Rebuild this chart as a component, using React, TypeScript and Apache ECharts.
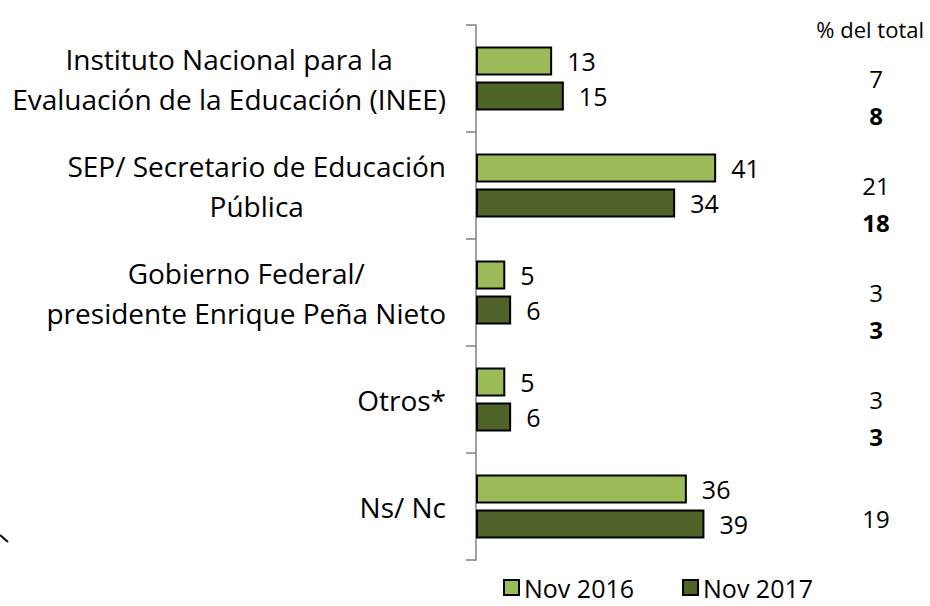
import React, { useEffect, useRef } from "react";
import * as echarts from "echarts";

const categories = [
  "Instituto Nacional para la\nEvaluación de la Educación (INEE)",
  "SEP/ Secretario de Educación\nPública",
  "Gobierno Federal/\npresidente Enrique Peña Nieto",
  "Otros*",
  "Ns/ Nc",
];
const nov2016 = [13, 41, 5, 5, 36];
const nov2017 = [15, 34, 6, 6, 39];
const pct2016: (number | null)[] = [7, 21, 3, 3, null];
const pct2017: (number | null)[] = [8, 18, 3, 3, 19];
const PCT_COLUMN_X = 68.3;

const FONT = "'Open Sans', 'Noto Sans', sans-serif";

export default function App() {
  const ref = useRef<HTMLDivElement>(null);
  useEffect(() => {
    if (!ref.current) return;
    const chart = echarts.init(ref.current, undefined, { renderer: "svg" });
    const pctSeries = (vals: (number | null)[], name: string, bold: boolean, offsetY: number) => ({
      type: "scatter",
      name,
      symbolSize: 0,
      silent: true,
      itemStyle: { opacity: 1 },
      data: vals.map((v, i) =>
        v === null
          ? null
          : {
              value: [PCT_COLUMN_X, categories[i]],
              pct: v,
              label:
                i === categories.length - 1
                  ? { fontWeight: "normal", offset: [0, 12] }
                  : undefined,
            }
      ),
      label: {
        show: true,
        position: "inside",
        offset: [0, offsetY],
        fontSize: 24,
        fontFamily: FONT,
        color: "#000",
        opacity: 1,
        fontWeight: bold ? "bold" : "normal",
        formatter: (p: any) => String(p.data.pct),
      },
      tooltip: { show: false },
    });
    const valueLabel = {
      show: true,
      position: "right",
      distance: 15,
      fontSize: 25,
      color: "#000",
      fontFamily: FONT,
    };
    chart.setOption({
      animation: false,
      textStyle: { fontFamily: FONT },
      title: {
        text: "% del total",
        right: 1,
        top: 13,
        textStyle: { fontSize: 22, fontWeight: "normal", color: "#000", fontFamily: FONT },
      },
      legend: {
        data: ["Nov 2016", "Nov 2017"],
        icon: "rect",
        left: 498,
        top: 570,
        itemWidth: 15,
        itemHeight: 15,
        itemGap: 48,
        textStyle: { fontSize: 25, color: "#000", fontFamily: FONT },
      },
      grid: { left: 476, top: 25, bottom: 46, right: 44, containLabel: false },
      xAxis: {
        type: "value",
        min: 0,
        max: 70,
        show: false,
      },
      yAxis: {
        type: "category",
        data: categories,
        inverse: true,
        axisLine: { show: true, lineStyle: { color: "#808080", width: 1.5 } },
        axisTick: { show: true, length: 10, lineStyle: { color: "#808080", width: 1.5 } },
        axisLabel: {
          margin: 30,
          fontSize: 28,
          lineHeight: 40,
          color: "#000",
          fontFamily: FONT,
          align: "right",
          formatter: (v: string) =>
            v
              .split("\n")
              .map((l) => `{c|${l}}`)
              .join("\n"),
          rich: {
            c: {
              align: "center",
              fontSize: 28,
              lineHeight: 40,
              color: "#000",
              fontFamily: FONT,
            },
          },
        },
        splitLine: { show: false },
      },
      series: [
        {
          type: "bar",
          name: "Nov 2016",
          data: nov2016,
          barWidth: 29,
          barGap: "20%",
          itemStyle: { color: "#9BBB59", borderColor: "#000", borderWidth: 2 },
          label: valueLabel,
        },
        {
          type: "bar",
          name: "Nov 2017",
          data: nov2017,
          barWidth: 29,
          barGap: "20%",
          itemStyle: { color: "#4F6228", borderColor: "#000", borderWidth: 2 },
          label: valueLabel,
        },
        pctSeries(pct2016, "pct2016", false, 0),
        pctSeries(pct2017, "pct2017", true, 37),
      ],
      graphic: [
        {
          type: "line",
          shape: { x1: 0, y1: 535, x2: 8, y2: 542 },
          style: { stroke: "#000", lineWidth: 2 },
          silent: true,
        },
      ],
    });
    return () => chart.dispose();
  }, []);
  return <div ref={ref} style={{ width: 930, height: 606, position: "absolute", left: 0, top: 0 }} />;
}
